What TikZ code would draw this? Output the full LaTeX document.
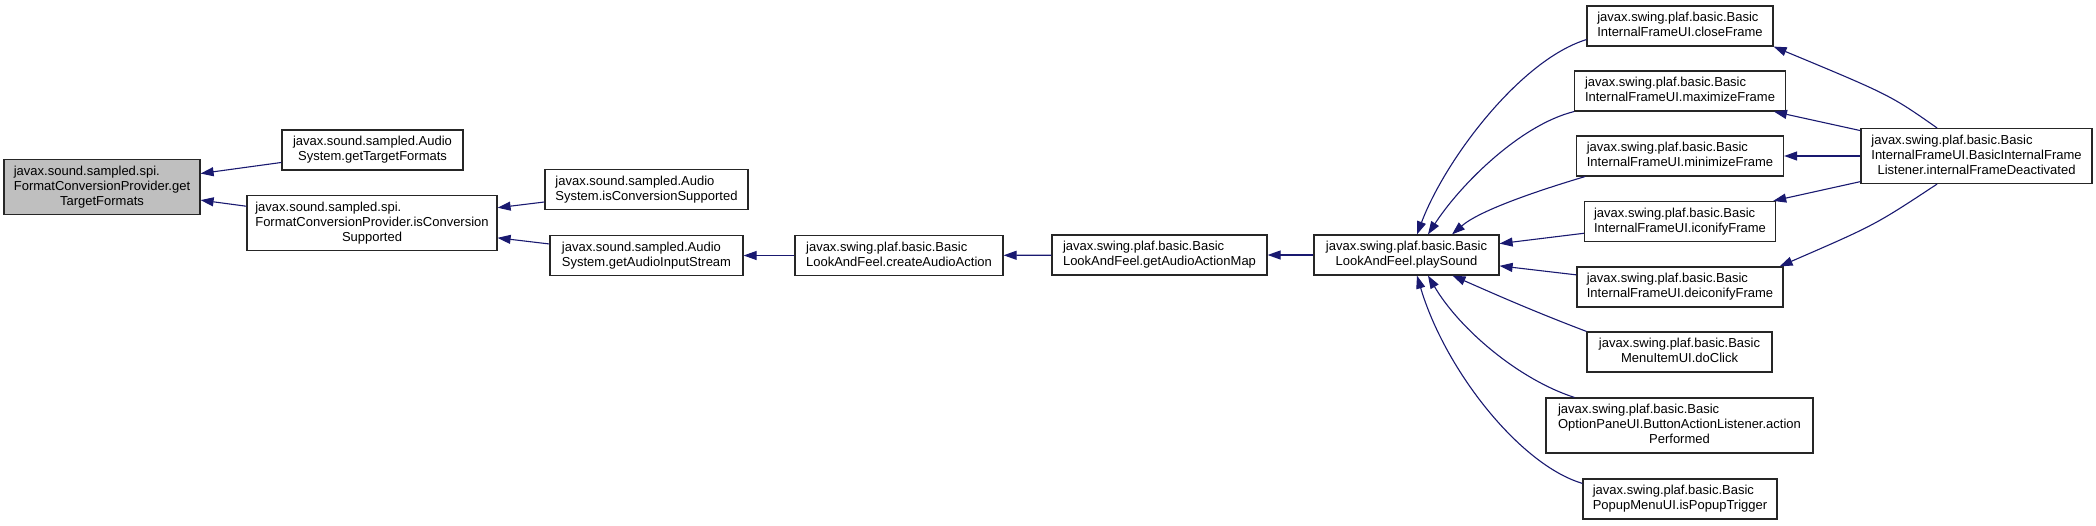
\documentclass[tikz,border=0pt]{standalone}
\usepackage{fontspec}
\usetikzlibrary{arrows.meta}
\newfontfamily\fnfamily{Liberation Sans}
\definecolor{edgeblue}{RGB}{25,25,112}
\definecolor{nodegray}{RGB}{191,191,191}
\newcommand{\fnfont}{\fnfamily\fontsize{13}{15}\selectfont}
\newcommand{\fnlabel}[2]{\begin{tabular}{@{}l@{}}#1\\\multicolumn{1}{@{}c@{}}{#2}\end{tabular}}
\tikzset{
  fn/.style={draw=black!85,line width=1.2pt,fill=white,inner sep=0pt,minimum height=40pt,font=\fnfont},
  calls/.style={draw=edgeblue,line width=1.1pt,-{Triangle[length=13pt,width=9pt]}}
}

\begin{document}
\begin{tikzpicture}[x=1pt,y=-1pt]
  \useasboundingbox(0,0)rectangle(2096,525);
  % the function and its callers, left to right
  \node[fn,fill=nodegray,minimum width=196pt,minimum height=55pt]at(102,187)(getTF){\fnlabel{javax.sound.sampled.spi.\\FormatConversionProvider.get}{TargetFormats}};
  \node[fn,minimum width=181pt]at(372.5,150)(sysGetTF){\fnlabel{javax.sound.sampled.Audio}{System.getTargetFormats}};
  \node[fn,minimum width=250pt,minimum height=55pt]at(372,223)(isConvSup){\fnlabel{javax.sound.sampled.spi.\\FormatConversionProvider.isConversion}{Supported}};
  \node[fn,minimum width=203pt]at(646.5,189.5)(sysIsConv){\fnlabel{javax.sound.sampled.Audio}{System.isConversionSupported}};
  \node[fn,minimum width=193pt]at(646.5,255.5)(getAIS){\fnlabel{javax.sound.sampled.Audio}{System.getAudioInputStream}};
  \node[fn,minimum width=208pt]at(899,255.5)(createAA){\fnlabel{javax.swing.plaf.basic.Basic}{LookAndFeel.createAudioAction}};
  \node[fn,minimum width=215pt]at(1159.5,255)(getAAM){\fnlabel{javax.swing.plaf.basic.Basic}{LookAndFeel.getAudioActionMap}};
  \node[fn,minimum width=185pt]at(1406.5,255)(playSound){\fnlabel{javax.swing.plaf.basic.Basic}{LookAndFeel.playSound}};
  % callers of playSound
  \foreach \nm/\yy/\ww in {closeFrame/26/186,maximizeFrame/91/211,minimizeFrame/156/207,iconifyFrame/221.5/191,deiconifyFrame/287/206}{%
    \node[fn,minimum width=\ww pt]at(1680,\yy)(\nm){\fnlabel{javax.swing.plaf.basic.Basic}{InternalFrameUI.\nm}};
  }
  \node[fn,minimum width=185pt]at(1679.5,352)(doClick){\fnlabel{javax.swing.plaf.basic.Basic}{MenuItemUI.doClick}};
  \node[fn,minimum width=267pt,minimum height=55pt]at(1679.5,425.5)(actionPerformed){\fnlabel{javax.swing.plaf.basic.Basic\\OptionPaneUI.ButtonActionListener.action}{Performed}};
  \node[fn,minimum width=194pt]at(1680,499)(isPopupTrigger){\fnlabel{javax.swing.plaf.basic.Basic}{PopupMenuUI.isPopupTrigger}};
  \node[fn,minimum width=231pt,minimum height=55pt]at(1976.5,156)(frameDeact){\fnlabel{javax.swing.plaf.basic.Basic\\InternalFrameUI.BasicInternalFrame}{Listener.internalFrameDeactivated}};
  % call edges
  \draw[calls](sysGetTF)--(getTF);
  \draw[calls](isConvSup)--(getTF);
  \draw[calls](sysIsConv)--(isConvSup);
  \draw[calls](getAIS)--(isConvSup);
  \draw[calls](createAA)--(getAIS);
  \draw[calls](getAAM)--(createAA);
  \draw[calls](playSound)--(getAAM);
  \draw[calls]([yshift=7pt]closeFrame.south west)..controls(1520,60)and(1445,160)..([xshift=10.5pt]playSound.north);
  \draw[calls](maximizeFrame.south west)..controls(1520,125)and(1460,185)..([xshift=21.5pt]playSound.north);
  \draw[calls]([xshift=9pt]minimizeFrame.south west)..controls(1540,190)and(1480,210)..([xshift=45.5pt]playSound.north);
  \draw[calls](iconifyFrame)--(playSound);
  \draw[calls](deiconifyFrame)--(playSound);
  \draw[calls](doClick.north west)..controls(1530,310)and(1490,292)..([xshift=46pt]playSound.south);
  \draw[calls]([xshift=29pt]actionPerformed.north west)..controls(1520,380)and(1460,330)..([xshift=21.5pt]playSound.south);
  \draw[calls]([yshift=-5pt]isPopupTrigger.north west)..controls(1520,465)and(1445,370)..([xshift=10.5pt]playSound.south);
  \draw[calls]([xshift=-39.5pt]frameDeact.north)..controls(1890,95)..(closeFrame.south east);
  \foreach \nm in {maximizeFrame,minimizeFrame,iconifyFrame}{%
    \draw[calls](frameDeact)--(\nm);
  }
  \draw[calls]([xshift=-39.5pt]frameDeact.south)..controls(1875,225)..([xshift=-4pt]deiconifyFrame.north east);
\end{tikzpicture}
\end{document}
